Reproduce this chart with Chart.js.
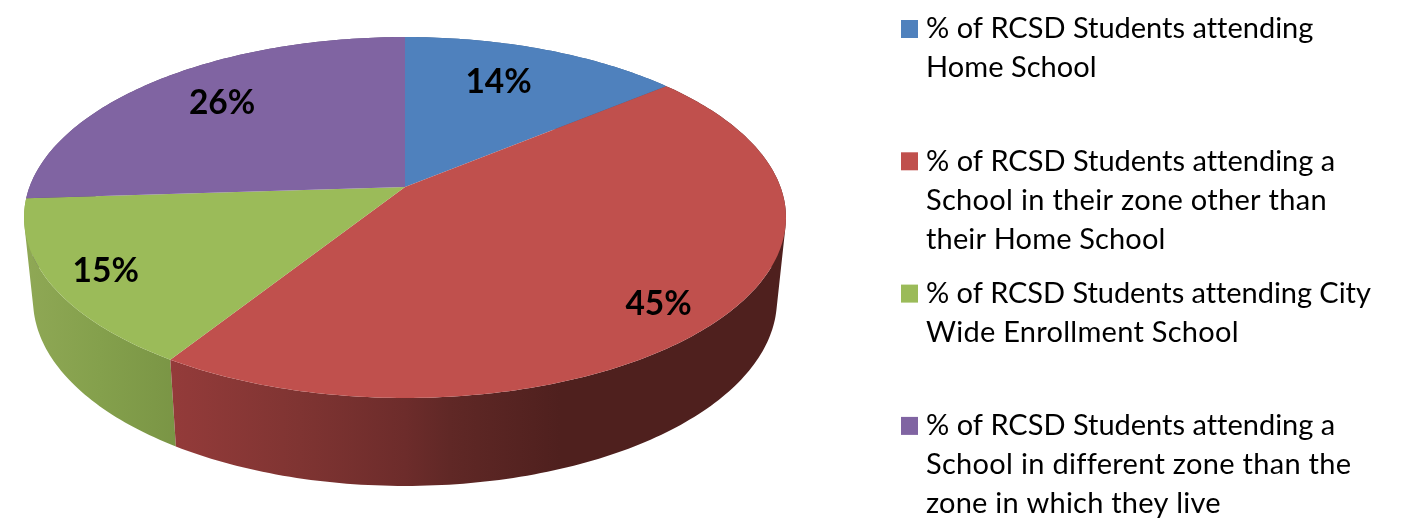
<!DOCTYPE html>
<html>
<head>
<meta charset="utf-8">
<style>
    html, body { margin: 0; padding: 0; background: #fff; overflow: hidden; }
    canvas { display: block; }
</style>
<script src="https://cdn.jsdelivr.net/npm/chart.js@4"></script>
</head>
<body>
<canvas id="zones-chart" width="1404" height="529"></canvas>
<script>
const categories = [
    '% of RCSD Students attending Home School',
    '% of RCSD Students attending a School in their zone other than their Home School',
    '% of RCSD Students attending City Wide Enrollment School',
    '% of RCSD Students attending a School in different zone than the zone in which they live'
];
const shares = [14, 45, 15, 26];
const legendLines = [
    ['% of RCSD Students attending', 'Home School'],
    ['% of RCSD Students attending a', 'School in their zone other than', 'their Home School'],
    ['% of RCSD Students attending City', 'Wide Enrollment School'],
    ['% of RCSD Students attending a', 'School in different zone than the', 'zone in which they live']
];
// Lato runs a bit narrower than the original font on some lines
const legendTracking = [
    [0, 0.05],
    [0, 0.3, 0.15],
    [-0.05, 0.27],
    [0, 0.3, 0.22]
];
const topColors = ['#4f81bd', '#c0504d', '#9bbb59', '#8064a2'];

// wall shading, left to right in pixels
const wallStops = [
    [[300, '#3b618e'], [700, '#3b618e']],
    [[170, '#943b3a'], [300, '#7f3432'], [405, '#6d2c2b'], [450, '#602826'], [560, '#4f201e'], [790, '#4f201e']],
    [[25, '#8fa855'], [100, '#84a04c'], [176, '#7a9545']],
    [[25, '#604b7a'], [400, '#604b7a']]
];
// back slices first so the front walls cover them
const wallOrder = [3, 0, 2, 1];

// the pie is a tilted disc, so both rims go through the same perspective divide
const tilt = 0.169;
const topRim = { x: 405, y: 187, a: 375.5, b: 175.3 };
const bottomRim = { x: 405, y: 268.5, a: 366.6, b: 180.7 };

// where the percent labels sit: share of radius along the slice middle, then a nudge
const labelRadius = [0.62, 0.72, 0.78, 0.72];
const labelNudge = [[3, -15], [33, 26], [-29, 10], [-1, -4]];

function project(rim, angle, r = 1) {
    const u = Math.cos(angle) * r;
    const v = Math.sin(angle) * r;
    const w = 1 - tilt * v;
    return [rim.x + rim.a * u / w, rim.y + rim.b * v / w];
}

function rimPoints(rim, start, end) {
    const steps = Math.max(2, Math.ceil((end - start) * 60));
    const pts = [];
    for (let i = 0; i <= steps; i++) {
        pts.push(project(rim, start + (end - start) * i / steps));
    }
    return pts;
}

function addPolygon(ctx, pts) {
    pts.forEach((p, i) => i ? ctx.lineTo(p[0], p[1]) : ctx.moveTo(p[0], p[1]));
    ctx.closePath();
}

function signedArea(pts) {
    let sum = 0;
    pts.forEach((p, i) => {
        const q = pts[(i + 1) % pts.length];
        sum += p[0] * q[1] - q[0] * p[1];
    });
    return sum;
}

function drawWall(ctx, arc, i) {
    const top = rimPoints(topRim, arc.startAngle, arc.endAngle);
    const bottom = rimPoints(bottomRim, arc.startAngle, arc.endAngle);
    const stops = wallStops[i];
    const x0 = stops[0][0];
    const x1 = stops[stops.length - 1][0];
    const grad = ctx.createLinearGradient(x0, 0, x1, 0);
    stops.forEach(s => grad.addColorStop((s[0] - x0) / (x1 - x0), s[1]));

    // one quad per step, all wound the same way so overlaps do not cancel
    ctx.beginPath();
    for (let k = 0; k < top.length - 1; k++) {
        const quad = [top[k], top[k + 1], bottom[k + 1], bottom[k]];
        if (signedArea(quad) < 0) quad.reverse();
        addPolygon(ctx, quad);
    }
    ctx.fillStyle = grad;
    ctx.fill();
}

const tiltedPie = {
    id: 'tiltedPie',
    beforeDatasetDraw(chart, args) {
        const ctx = chart.ctx;
        const arcs = args.meta.data;

        wallOrder.forEach(i => drawWall(ctx, arcs[i], i));

        arcs.forEach((arc, i) => {
            const pts = rimPoints(topRim, arc.startAngle, arc.endAngle);
            pts.unshift([topRim.x, topRim.y]);
            ctx.beginPath();
            addPolygon(ctx, pts);
            ctx.fillStyle = topColors[i];
            ctx.fill();
        });

        return false;
    },
    afterDraw(chart) {
        const ctx = chart.ctx;
        ctx.save();
        ctx.textRendering = 'optimizeSpeed';
        ctx.fillStyle = '#000';
        ctx.textAlign = 'center';
        ctx.textBaseline = 'middle';
        ctx.font = 'bold 33.5px Lato';
        chart.getDatasetMeta(0).data.forEach((arc, i) => {
            const mid = (arc.startAngle + arc.endAngle) / 2;
            const p = project(topRim, mid, labelRadius[i]);
            ctx.fillText(shares[i] + '%', p[0] + labelNudge[i][0], p[1] + labelNudge[i][1]);
        });

        ctx.textAlign = 'left';
        ctx.font = '29px Lato';
        legendLines.forEach((lines, i) => {
            const y = 28 + 132.3 * i;
            ctx.fillStyle = topColors[i];
            ctx.fillRect(901, y - 8, 17, 18);
            ctx.fillStyle = '#000';
            lines.forEach((line, j) => {
                ctx.letterSpacing = legendTracking[i][j] + 'px';
                ctx.fillText(line, 926, y + 1 + 39 * j);
            });
        });
        ctx.restore();
    }
};

new Chart(document.getElementById('zones-chart'), {
    type: 'pie',
    data: {
        labels: categories,
        datasets: [{
            data: shares,
            backgroundColor: topColors,
            borderWidth: 0
        }]
    },
    options: {
        responsive: false,
        animation: false,
        plugins: {
            legend: { display: false },
            tooltip: { enabled: false }
        }
    },
    plugins: [tiltedPie]
});
</script>
</body>
</html>
